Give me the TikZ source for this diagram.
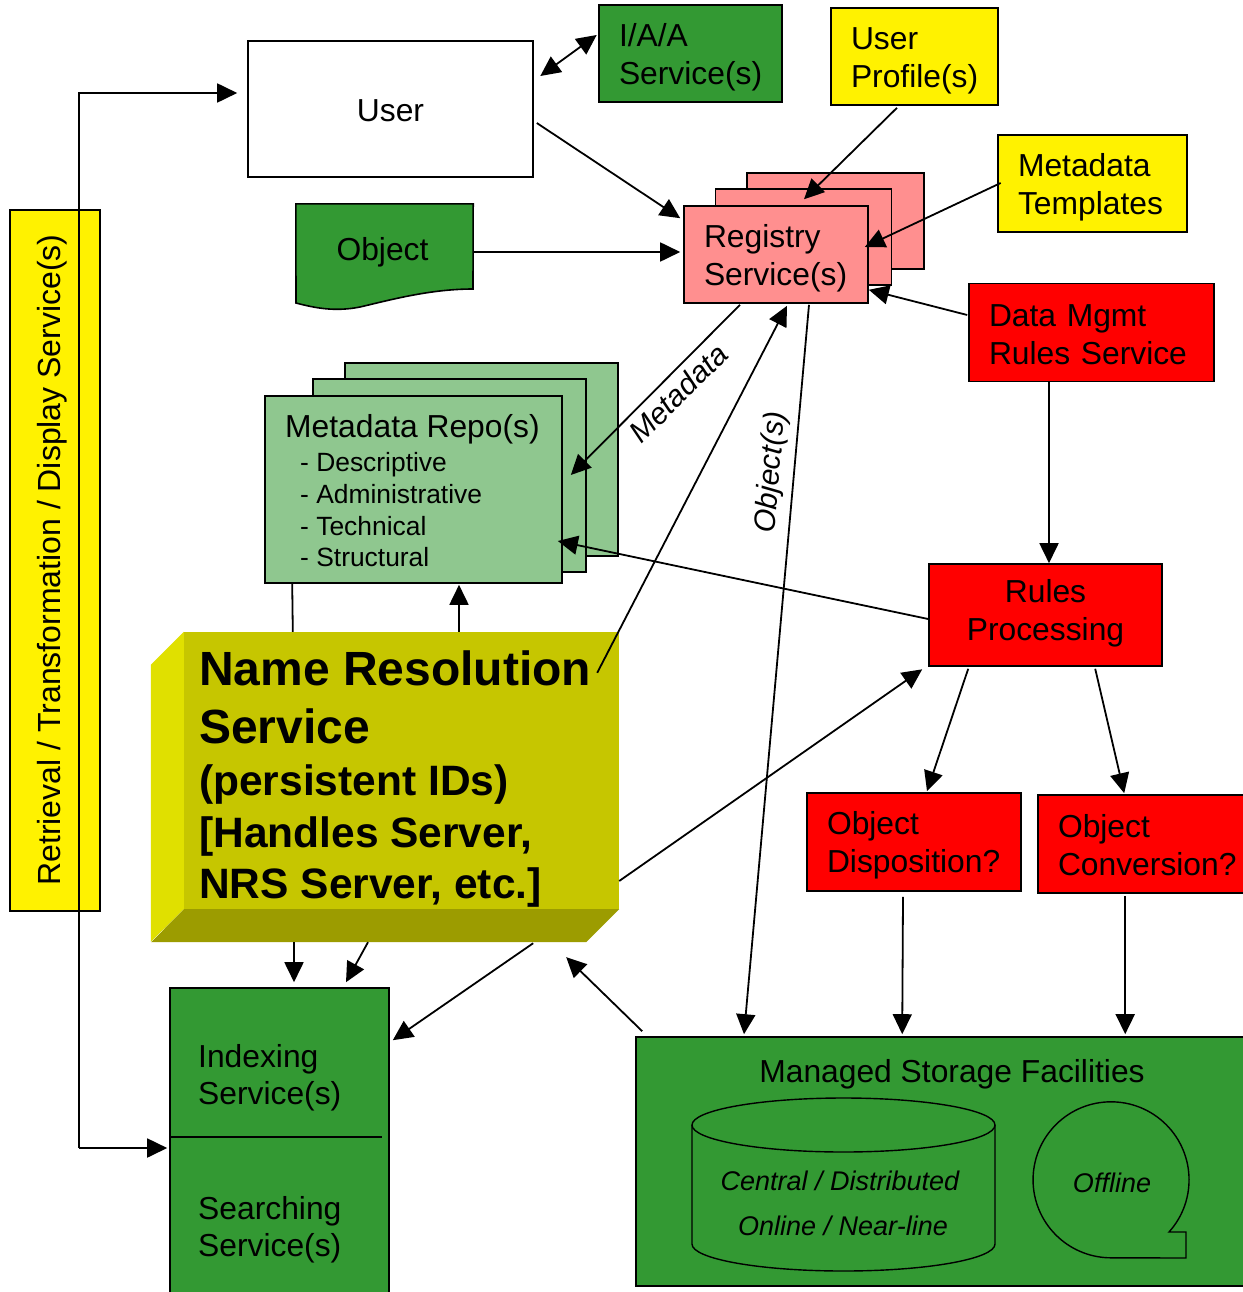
\documentclass[tikz,border=0pt]{standalone}
\usepackage{fontspec}
\setmainfont{Liberation Sans}
\usetikzlibrary{arrows.meta,calc}
\definecolor{dkgreen}{HTML}{339933}
\definecolor{ltgreen}{HTML}{8FC78F}
\definecolor{pinkbox}{HTML}{FF8F8F}
\definecolor{nrsface}{HTML}{C6C600}
\definecolor{nrsleft}{HTML}{E0E000}
\definecolor{nrsbottom}{HTML}{9C9C00}
% strut that centres two-line labels on their capitals
\newcommand\lnstrut{\rule[-5pt]{0pt}{35pt}}
\newcommand\nohyph{\hyphenpenalty=10000\relax}
\begin{document}
\begin{tikzpicture}[x=1pt,y=-1pt,
  every node/.style={inner sep=0pt},
  cbox/.style={draw, line width=1.6pt, rectangle, inner xsep=20pt, inner ysep=0pt,
    align=left, font=\fontsize{31.8}{38}\selectfont\nohyph},
  pbox/.style={draw, line width=1.6pt, rectangle},
  tx/.style={anchor=base west, font=\fontsize{31.8}{38}\selectfont},
  arr/.style={line width=1.8pt, -{Triangle[length=20pt,width=19pt]}},
  arrs/.style={line width=1.8pt, {Triangle[length=20pt,width=19pt]}-{Triangle[length=20pt,width=19pt]}},
  link/.style={line width=1.8pt},
  thin/.style={line width=1.4pt},
]
\useasboundingbox (0,0) rectangle (1242,1292);
\fill[white] (0,0) rectangle (1242,1292);

% ---- side bar
\node[pbox, fill=yellow, minimum width=90pt, minimum height=701pt] (rts) at (55,560.5) {};
\node[rotate=90, anchor=base, font=\fontsize{32}{38}\selectfont] (rtstext) at (60,560)
  {Retrieval / Transformation / Display Service(s)};

% ---- top row
\node[cbox, fill=white, text width=245pt, align=center, minimum height=136pt] (user) at (390.5,109) {\lnstrut User};
\node[cbox, fill=dkgreen, text width=143pt, minimum height=97pt] (iaa) at (690.5,53.5) {\lnstrut I/A/A\\ \lnstrut Service(s)};
\node[cbox, fill=yellow, text width=127pt, minimum height=97pt] (uprof) at (914.5,56.5) {\lnstrut User\\ \lnstrut Profile(s)};
\node[cbox, fill=yellow, text width=149pt, minimum height=97pt] (mtpl) at (1092.5,183.5) {\lnstrut Metadata\\ \lnstrut Templates};

% ---- registry stack
\node[pbox, fill=pinkbox, minimum width=177pt, minimum height=96pt] (regC) at (835.5,221) {};
\node[pbox, fill=pinkbox, minimum width=176pt, minimum height=96pt] (regB) at (803.5,237) {};
\node[cbox, fill=pinkbox, text width=144pt, minimum height=97pt] (reg) at (776,254.5) {\lnstrut Registry\\ \lnstrut Service(s)};

% ---- object (document shape)
\node[minimum width=177pt, minimum height=96pt] (object) at (384.5,252) {};
\draw[line width=1.6pt, fill=dkgreen] (object.north west) -- (object.north east) -- (473,289)
  .. controls (430,289) and (390,300) .. (360,307)
  .. controls (335,312) and (315,308) .. (296,303) -- cycle;
\node[font=\fontsize{31.8}{38}\selectfont] (objtext) at ($(object.center)+(-2,0)$) {Object};

% ---- metadata repositories
\node[pbox, fill=ltgreen, minimum width=273pt, minimum height=193pt] (mrepoC) at (481.5,459.5) {};
\node[pbox, fill=ltgreen, minimum width=273pt, minimum height=193pt] (mrepoB) at (449.5,475.5) {};
\node[pbox, fill=ltgreen, minimum width=297pt, minimum height=187pt] (mrepo) at (413.5,489.5) {};
\node[tx] (mrtitle) at (285,437) {Metadata Repo(s)};
\begin{scope}[every node/.append style={tx, font=\fontsize{26.4}{32}\selectfont}]
\node (mr1) at (300,471.7) {- Descriptive};
\node (mr2) at (300,503.3) {- Administrative};
\node (mr3) at (300,535) {- Technical};
\node (mr4) at (300,566.7) {- Structural};
\end{scope}

% ---- rules side
\node[cbox, fill=red, text width=205pt, minimum height=98pt] (mdmt) at (1091.5,332.5) {\lnstrut Data Mgmt\\ \lnstrut Rules Service};
\node[cbox, fill=red, text width=193pt, align=center, minimum height=102pt] (rules) at (1045.5,615)
  {\rule{0pt}{30pt}Rules\\ Processing\rule[-18pt]{0pt}{18pt}};
\node[cbox, fill=red, text width=174pt, minimum height=98pt] (odisp) at (914,842) {\lnstrut Object\\ \lnstrut Disposition?};
\node[cbox, fill=red, text width=172pt, minimum height=98pt] (oconv) at (1144,844) {\lnstrut Object\\ \lnstrut Conversion?};

% ---- name resolution block
\node[fill=nrsface, minimum width=435pt, minimum height=277pt] (nrs) at (401.5,770.5) {};
\fill[nrsleft] (nrs.north west) -- ++(-33,33) -- ++(0,277) -- (nrs.south west) -- cycle;
\fill[nrsbottom] (nrs.south west) -- (nrs.south east) -- ++(-33,33) -- ++(-435,0) -- cycle;
\begin{scope}[every node/.append style={tx}]
\node[font=\fontsize{48}{56}\selectfont\bfseries] (nrs1) at (199,685) {Name Resolution};
\node[font=\fontsize{48}{56}\selectfont\bfseries] (nrs2) at (199,743) {Service};
\node[font=\fontsize{42.5}{50}\selectfont\bfseries] (nrs3) at (199,795) {(persistent IDs)};
\node[font=\fontsize{42.5}{50}\selectfont\bfseries] (nrs4) at (199,847) {[Handles Server,};
\node[font=\fontsize{42.5}{50}\selectfont\bfseries] (nrs5) at (199,898) {NRS Server, etc.]};
\end{scope}

% ---- indexing / searching
\node[pbox, fill=dkgreen, minimum width=219pt, minimum height=312pt] (idx) at (279.5,1144) {};
\draw[line width=1.6pt] ($(idx.west)+(0,-7)$) -- ++(213,0);
\node[tx] (ix1) at (198,1067) {Indexing};
\node[tx] (ix2) at (198,1104) {Service(s)};
\node[tx] (sr1) at (198,1219) {Searching};
\node[tx] (sr2) at (198,1256) {Service(s)};

% ---- managed storage
\node[pbox, fill=dkgreen, minimum width=614pt, minimum height=249pt] (store) at (943,1161.5) {};
\node[tx, anchor=base] (sttl) at (952,1082) {Managed Storage Facilities};
\draw[thin] (692,1125) -- (692,1244) arc[start angle=180, end angle=0, x radius=151.5, y radius=27] -- (995,1125);
\draw[thin] (843.5,1125) ellipse[x radius=151.5, y radius=27];
\node[tx, anchor=base, font=\fontsize{27}{32}\selectfont\itshape] (cyl1) at (840,1190) {Central / Distributed};
\node[tx, anchor=base, font=\fontsize{27}{32}\selectfont\itshape] (cyl2) at (843,1235) {Online / Near-line};
\draw[thin] (1169,1232) arc[start angle=42, end angle=-270, radius=78] -- (1186,1258) -- (1186,1232) -- cycle;
\node[tx, anchor=base, font=\fontsize{27}{32}\selectfont\itshape] (offl) at (1112,1192) {Offline};

% ---- connectors
\coordinate (rt) at (79,93);
\coordinate (rb) at (79,1148);
\draw[arr] (rb) -- (rt) -- ($(rt -| user.west)+(-10,0)$);
\draw[arr] (rb) -- ($(rb -| idx.west)+(-2,0)$);

\draw[arrs] ($(user.east)+(6.5,-33)$) -- ($(iaa.west)+(-1.5,-18.5)$);
\draw[arr] ($(user.east)+(3,14)$) -- ($(reg.north west)+(-3,13)$);
\draw[arr] (object.east) -- ($(object.east -| reg.west)+(-3,0)$);
\draw[arr] ($(uprof.south)+(-17.5,2)$) -- ($(regB.north)+(0.5,11)$);
\draw[arr] ($(mtpl.west)+(3.5,-0.5)$) -- ($(reg.east)+(-4,-7.5)$);
\draw[arr] ($(mdmt.west)+(-1,-17.5)$) -- ($(reg.south east)+(0,-14)$);
\draw[arr] ($(reg.south)+(-36,1)$) -- ($(mrepo.east)+(8,-14.5)$);
\draw[arr] ($(nrs.north east)+(-22,41)$) -- ($(reg.south)+(11,2)$);
\draw[arr] ($(reg.south)+(33,1)$) -- ($(store.north)+(-199,-2)$);
\draw[arr] ($(rules.west)+(0,4)$) -- ($(mrepo.east)+(-5,51.5)$);
\draw[arr] ($(mdmt.south)+(-42.5,0)$) -- ($(rules.north)+(3.5,0)$);
\draw[arr] ($(nrs.east)+(0,110.5)$) -- ($(rules.south west)+(-6,2.5)$);
\draw[arr] ($(rules.south west)+(40,2)$) -- ($(odisp.north)+(13,-1)$);
\draw[arr] ($(rules.south west)+(167,2)$) -- ($(oconv.north west)+(87,-1)$);
\draw[arr] ($(odisp.south)+(-11,5)$) -- ($(store.north west)+(267,-2)$);
\draw[arr] ($(oconv.south west)+(88,2)$) -- ($(store.north west)+(490,-2)$);
\draw[arr] ($(store.north west)+(7,-5)$) -- ($(nrs.south east)+(-53,48)$);
\draw[arr] ($(nrs.south east)+(-86,34)$) -- ($(idx.north east)+(3,53)$);
\draw[arr] ($(nrs.south)+(-33.5,33)$) -- ($(idx.north)+(66.5,-5)$);
\draw[arr] ($(nrs.south)+(-107.5,33)$) -- ($(idx.north)+(14.5,-5)$);
\draw[link] ($(mrepo.south west)+(28,0)$) -- ($(nrs.north west)+(109,0)$);
\draw[arr] ($(nrs.north)+(57.5,0)$) -- ($(mrepo.south)+(45.5,1)$);

% ---- connector labels
\node[rotate=45, font=\fontsize{30}{36}\selectfont\itshape] (mdlbl) at (678,393) {Metadata};
\node[rotate=85, font=\fontsize{30}{36}\selectfont\itshape] (objlbl) at (772,472) {Object(s)};
\end{tikzpicture}
\end{document}
